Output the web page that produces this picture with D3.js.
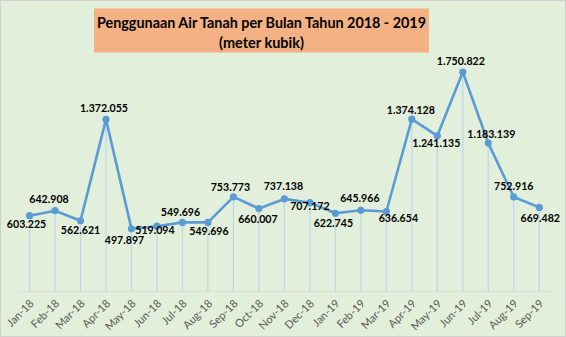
<!DOCTYPE html>
<html><head><meta charset="utf-8">
<script src="https://cdn.jsdelivr.net/npm/d3@7/dist/d3.min.js"></script>
<style>html,body{margin:0;padding:0;background:#fff;}svg{display:block;}</style>
</head><body>
<script>
const months = ["Jan-18","Feb-18","Mar-18","Apr-18","May-18","Jun-18","Jul-18","Aug-18","Sep-18","Oct-18","Nov-18","Dec-18","Jan-19","Feb-19","Mar-19","Apr-19","May-19","Jun-19","Jul-19","Aug-19","Sep-19"];
const usage = [603225,642908,562621,1372055,497897,519094,549696,549696,753773,660007,737138,707172,622745,645966,636654,1374128,1241135,1750822,1183139,752916,669482];
const valueLabels = ["603.225","642.908","562.621","1.372.055","497.897","519.094","549.696","549.696","753.773","660.007","737.138","707.172","622.745","645.966","636.654","1.374.128","1.241.135","1.750.822","1.183.139","752.916","669.482"];
// label placement: [dx, dy] relative to point
const labelPos = [[-3,10],[-6,-10],[0,11],[-2,-10],[-7,12],[-2,5],[-2,-9],[1,10],[-3,-9],[-1,12],[-1,-12],[0,5],[-2,11],[-1,-11],[12,8],[-1,-8],[-1,8],[-2,-10],[3,-8],[0,-10],[1,12]];
const titleLines = ["Penggunaan Air Tanah per Bulan Tahun 2018 - 2019","(meter kubik)"];
const titleWidths = [329, 85];

const W = 566, H = 337;
const svg = d3.select("body").append("svg").attr("width", W).attr("height", H);
svg.append("rect").attr("x",0.5).attr("y",0.5).attr("width",W-1).attr("height",H-1)
  .attr("fill","#e2efda").attr("stroke","#d0d0d0");

const x = d3.scaleBand().domain(months).range([16.8, 552]);
const y = d3.scaleLinear().domain([0, 2000]).range([291.2, 40.8]);
const cx = m => x(m) + x.bandwidth()/2;

// title box
svg.append("rect").attr("x",94).attr("y",8.5).attr("width",335).attr("height",44).attr("fill","#f4b183");
svg.selectAll("text.title").data(titleLines).join("text").attr("class","title")
  .attr("x",261.5).attr("y",(d,i)=>27.5+i*20.5).attr("text-anchor","middle")
  .attr("textLength",(d,i)=>titleWidths[i]).attr("lengthAdjust","spacingAndGlyphs")
  .attr("font-family","Lato, 'Open Sans', sans-serif").attr("font-weight","bold").attr("font-size",16)
  .attr("fill","#000").text(d=>d);

// axis
const xAxis = svg.append("g").attr("transform",`translate(0,${y(0)})`).call(d3.axisBottom(x).tickSize(0).tickPadding(0));
xAxis.select(".domain").attr("stroke","#d9d9d9").attr("stroke-width",1);
xAxis.selectAll("text").attr("font-family","Lato, 'Open Sans', sans-serif").attr("font-size",11).attr("fill","#595959")
  .attr("text-anchor","end").attr("dy",0).attr("transform","translate(5,13) rotate(-45)");

// drop lines
svg.selectAll("line.drop").data(months).join("line").attr("class","drop")
  .attr("x1",cx).attr("x2",cx).attr("y1",(d,i)=>y(usage[i]/1000)).attr("y2",y(0))
  .attr("stroke","#bdd7ee").attr("stroke-width",1.2);

// line
svg.append("path").datum(usage)
  .attr("d", d3.line().x((d,i)=>cx(months[i])).y(d=>y(d/1000)))
  .attr("fill","none").attr("stroke","#5b9bd5").attr("stroke-width",2.6).attr("stroke-linejoin","round");

svg.selectAll("circle.pt").data(usage).join("circle").attr("class","pt")
  .attr("cx",(d,i)=>cx(months[i])).attr("cy",d=>y(d/1000)).attr("r",3.6).attr("fill","#5b9bd5");

svg.selectAll("text.val").data(valueLabels).join("text").attr("class","val")
  .attr("x",(d,i)=>cx(months[i])+labelPos[i][0]).attr("y",(d,i)=>y(usage[i]/1000)+labelPos[i][1])
  .attr("text-anchor","middle").attr("dominant-baseline","middle")
  .attr("font-family","Lato, 'Open Sans', sans-serif").attr("font-weight","bold").attr("font-size",10.6)
  .attr("fill","#000").text(d=>d);
</script>
</body></html>
